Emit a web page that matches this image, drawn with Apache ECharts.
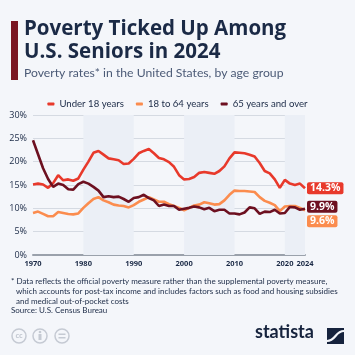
<!DOCTYPE html>
<html><head><meta charset="utf-8">
<script src="https://cdn.jsdelivr.net/npm/echarts@6/dist/echarts.min.js"></script>
<style>html,body{margin:0;padding:0;background:#f4f6fa;}#c{width:355px;height:355px;}</style>
</head><body><div id="c"></div>
<script>
const years = [];
for (let y = 1970; y <= 2024; y++) years.push(y);
const under18 = [15.1,15.3,15.1,14.4,15.4,17.1,16.0,16.2,15.9,16.4,18.3,20.0,21.9,22.3,21.5,20.7,20.5,20.3,19.5,19.6,20.6,21.8,22.3,22.7,21.8,20.8,20.5,19.9,18.9,17.1,16.2,16.3,16.7,17.6,17.8,17.6,17.4,18.0,19.0,20.7,22.0,21.9,21.8,21.5,21.1,19.7,18.0,17.5,16.2,14.4,16.1,15.3,15.0,15.3,14.3];
const age18to64 = [9.0,9.3,8.8,8.3,8.3,9.2,9.0,8.8,8.7,8.9,10.1,11.1,12.0,12.4,11.7,11.3,10.8,10.6,10.5,10.2,10.7,11.4,11.9,12.4,11.9,11.4,11.4,10.9,10.5,10.1,9.6,10.1,10.6,10.8,11.3,11.1,10.8,10.9,11.7,12.9,13.8,13.7,13.7,13.6,13.5,12.4,11.6,11.2,10.7,9.4,10.4,10.5,10.5,10.1,9.6];
const over65 = [24.6,21.6,18.6,16.3,14.6,15.3,15.0,14.1,14.0,15.2,15.7,15.3,14.6,13.8,12.4,12.6,12.4,12.5,12.0,11.4,12.2,12.4,12.9,12.2,11.7,10.5,10.8,10.5,10.5,9.7,9.9,10.1,10.4,10.2,9.8,10.1,9.4,9.7,9.7,8.9,8.9,8.7,9.1,10.2,10.0,8.8,9.3,9.2,9.7,8.9,9.0,10.3,10.2,9.7,9.9];
const seriesNames = ['Under 18 years','18 to 64 years','65 years and over'];
const xTicks = [1970,1980,1990,2000,2010,2020,2024];
const bands = [[1980,1990],[2000,2010],[2020,2024]];
const colors = ['#e8392b','#fb8c4e','#6d1020'];
const navy = '#1b2a46';

const chart = echarts.init(document.getElementById('c'), null, {renderer:'canvas'});
function pairs(arr){ return arr.map((v,i)=>[years[i],v]); }
function mk(name, data, color, offY, z){
  return {
    name, type:'line', data:pairs(data), symbol:'none', smooth:false, z,
    lineStyle:{color, width:2.6}, itemStyle:{color},
    endLabel:{show:true, formatter:p=>p.value[1].toFixed(1)+'%', color:'#fff', fontWeight:'bold',
      fontFamily:'Open Sans', fontSize:10.5, backgroundColor:color, padding:[1,3,0,3], borderRadius:2,
      offset:[2,offY], distance:0}
  };
}
const s1 = mk(seriesNames[0], under18, colors[0], 0, 3);
const s2 = mk(seriesNames[1], age18to64, colors[1], 11, 2);
const s3 = mk(seriesNames[2], over65, colors[2], -2, 4);
s1.markArea = {silent:true, itemStyle:{color:'#ebeff6', opacity:1}, data: bands.map(b=>[{xAxis:b[0]},{xAxis:b[1]}])};

chart.setOption({
  backgroundColor:'#f4f6fa',
  animation:false,
  textStyle:{fontFamily:'Open Sans'},
  legend:{top:94, left:'center', itemWidth:7, itemHeight:3, itemGap:12, icon:'roundRect',
    textStyle:{color:navy, fontSize:9.6, fontFamily:'Lato'}, data:seriesNames},
  grid:{left:33, right:50, top:115, bottom:100, outerBoundsMode:'none', containLabel:false},
  xAxis:{type:'value', min:1970, max:2024,
    axisLine:{show:true, lineStyle:{color:'#9aa1ab', width:2}},
    axisTick:{show:false}, splitLine:{show:false},
    axisLabel:{customValues:xTicks, color:navy, fontSize:7.5, fontWeight:'bold', margin:5, formatter:v=>String(v)}},
  yAxis:{type:'value', min:0, max:30, interval:5,
    axisLabel:{formatter:'{value}%', color:navy, fontSize:9, margin:6},
    axisLine:{show:false}, axisTick:{show:false},
    splitLine:{lineStyle:{color:'#d5dae2', width:1}}},
  series:[s1,s2,s3],
  graphic:[
    {type:'rect', shape:{x:11,y:21,width:7,height:59}, style:{fill:'#7a1623'}},
    {type:'text', left:24, top:18, style:{text:'Poverty Ticked Up Among\nU.S. Seniors in 2024', fill:navy, font:'bold 20.5px "Open Sans"', lineHeight:23}},
    {type:'text', left:24, top:67, style:{text:'Poverty rates* in the United States, by age group', fill:'#4b5a76', font:'12.2px Lato'}},
    {type:'text', left:11, top:277, style:{text:'* Data reflects the official poverty measure rather than the supplemental poverty measure,', fill:navy, font:'8px Lato'}},
    {type:'text', left:16, top:287, style:{text:'which accounts for post-tax income and includes factors such as food and housing subsidies\nand medical out-of-pocket costs', fill:navy, font:'8px Lato', lineHeight:9.5}},
    {type:'text', left:11, top:306, style:{text:'Source: U.S. Census Bureau', fill:navy, font:'8px Lato'}},
    {type:'circle', shape:{cx:19,cy:336,r:7}, style:{fill:'none', stroke:'#c5cad3', lineWidth:1.5}},
    {type:'text', x:19, y:336, style:{text:'cc', fill:'#c5cad3', font:'bold 7px "Open Sans"', align:'center', verticalAlign:'middle'}},
    {type:'circle', shape:{cx:40,cy:336,r:7}, style:{fill:'none', stroke:'#c5cad3', lineWidth:1.5}},
    {type:'circle', shape:{cx:40,cy:332,r:1.3}, style:{fill:'#c5cad3'}},
    {type:'rect', shape:{x:38.5,y:334,width:3,height:6}, style:{fill:'#c5cad3'}},
    {type:'circle', shape:{cx:62,cy:336,r:7}, style:{fill:'none', stroke:'#c5cad3', lineWidth:1.5}},
    {type:'rect', shape:{x:58.5,y:333.5,width:7,height:1.5}, style:{fill:'#c5cad3'}},
    {type:'rect', shape:{x:58.5,y:337,width:7,height:1.5}, style:{fill:'#c5cad3'}},
    {type:'text', left:255, top:323, style:{text:'statista', fill:'#16233d', font:'bold 18px Lato'}},
    {type:'rect', shape:{x:327,y:328,width:17,height:16}, style:{fill:'#16233d'}},
    {type:'bezierCurve', shape:{x1:327,y1:341,x2:344,y2:331,cpx1:336,cpy1:341,cpx2:335,cpy2:331}, style:{stroke:'#f4f6fa', lineWidth:2.2, fill:null}}
  ]
});
</script></body></html>
